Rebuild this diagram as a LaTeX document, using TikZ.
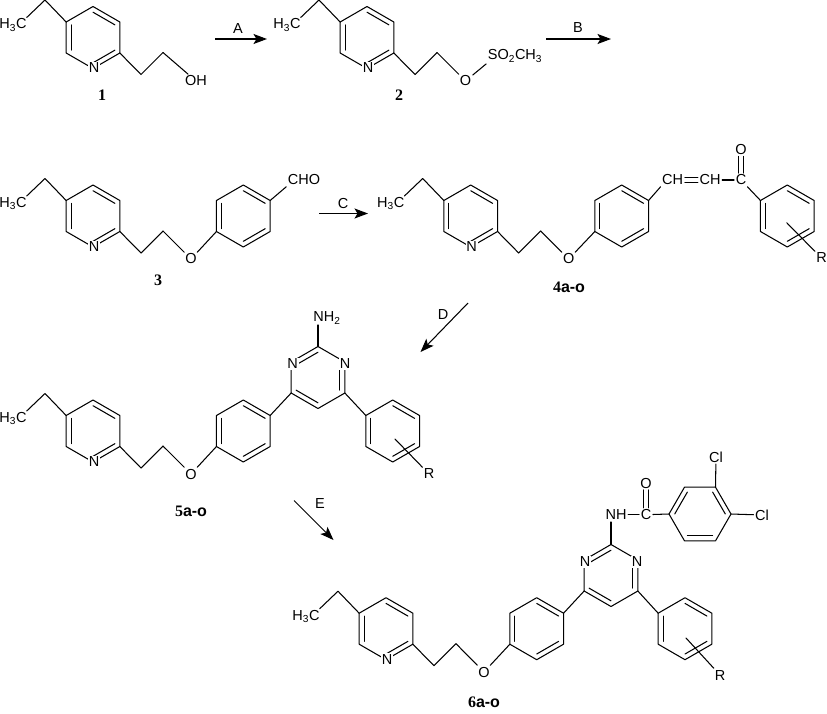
\documentclass[tikz,border=0pt]{standalone}
\usepackage{fontspec}
\setmainfont{Liberation Sans}
\newfontfamily\labelfont{Liberation Serif}
\usetikzlibrary{positioning,arrows.meta}

\tikzset{
    bond/.style={line width=1.05pt, line cap=round, line join=round},
    atom/.style={inner sep=1.5pt, font=\fontsize{14.5}{16}\selectfont},
    hetero/.style={atom, fill=white, inner sep=0.8pt},
    compound/.style={inner sep=0pt, font=\fontsize{16}{18}\selectfont\bfseries},
    reaction/.style={line width=1.05pt, -{Stealth[length=13.5pt,width=10pt,inset=3pt]}},
    ring/.pic={
        \foreach \i/\a in {1/-90,2/-30,3/30,4/90,5/150,6/-150}
            \coordinate (-\i) at (\a:31);
        \draw[bond] (-1)--(-2)--(-3)--(-4)--(-5)--(-6)--cycle;
        \foreach \a/\b in {-90/-30,30/90,150/-150}
            \draw[bond] (\a:25.3)--(\b:25.3);
    },
    % pyridine with ethyl, chain ends at c2
    pyridine/.pic={
        \pic (-r) {ring};
        \coordinate (-ch) at (-48,-37.5);
        \coordinate (-me) at (-66.3,-20);
        \node[atom] (-h3c) at (-80,-12.5) {H\textsubscript{3}C};
        \draw[bond] (-r-6)--(-ch)--(-me);
        \coordinate (-c1) at (48,37);
        \coordinate (-c2) at (70,15);
        \draw[bond] (-r-3)--(-c1)--(-c2);
        \node[hetero] (-n) at (1,30.5) {N};
    },
}

\begin{document}
\begin{tikzpicture}[x=1pt,y=-1pt]
    \useasboundingbox (0,0) rectangle (827,713);

    % 1
    \pic (aa) at (93,37.5) {pyridine};
    \node[atom] (oh) at (196,81) {OH};
    \draw[bond] (aa-c2)--(oh);
    \node[compound] (one) at (102,95) {\labelfont 1};

    % 2
    \pic (bb) at (367,37.5) {pyridine};
    \node[atom] (ob) at (465.5,81) {O};
    \node[atom,anchor=west] (ms) at (486.2,56) {SO\textsubscript{2}CH\textsubscript{3}};
    \draw[bond] (bb-c2)--(ob);
    \draw[bond] (ob)--(ms.south west);
    \node[compound] (two) at (399,95) {\labelfont 2};

    % 3
    \pic (cc) at (93,216) {pyridine};
    \pic (ca) at (243.3,216) {ring};
    \node[atom] (oc) at (191,259) {O};
    \node[atom] (cho) at (304,180) {CHO};
    \draw[bond] (cc-c2)--(oc)--(ca-5);
    \draw[bond] (ca-2)--(cho.south west);
    \node[compound] (three) at (158,280) {\labelfont 3};

    % 4
    \pic (dd) at (470.7,216) {pyridine};
    \pic (da) at (621.7,216) {ring};
    \pic (db) at (787.3,216) {ring};
    \node[atom] (od) at (568.7,259) {O};
    \node[atom] (cha) at (672.7,180) {CH};
    \node[atom] (chb) at (710,180) {CH};
    \node[atom] (cd) at (741,180) {C};
    \node[atom] (ocd) at (741,149.5) {O};
    \node[atom] (rd) at (821.5,258) {R};
    \coordinate (rda) at (786.7,222.7);
    \draw[bond] (dd-c2)--(od)--(da-5);
    \draw[bond] (da-2)--(cha.south west);
    \draw[bond] ([yshift=-2.5]cha.east)--([yshift=-2.5]chb.west);
    \draw[bond] ([yshift=2.5]cha.east)--([yshift=2.5]chb.west);
    \draw[bond] (chb)--(cd);
    \draw[bond] ([xshift=-2.4]cd.north)--([xshift=-2.4]ocd.south);
    \draw[bond] ([xshift=2.4]cd.north)--([xshift=2.4]ocd.south);
    \draw[bond] (cd)--(db-6);
    \draw[bond] (rda)--(rd);
    \node[compound] (four) at (569,287.5) {{\labelfont 4}a-o};

    % 5
    \pic (ee) at (93,431) {pyridine};
    \pic (ea) at (243.3,431) {ring};
    \pic[xscale=-1] (em) at (318,377.5) {ring};
    \pic (eb) at (392.7,431) {ring};
    \node[hetero] (ena) at (292.5,364) {N};
    \node[hetero] (enb) at (345,364) {N};
    \node[atom] (nh) at (327,318) {NH\textsubscript{2}};
    \node[atom] (oe) at (191,474) {O};
    \node[atom] (re) at (429,474) {R};
    \coordinate (rea) at (395,439);
    \coordinate (nhe) at (318,325);
    \draw[bond] (ee-c2)--(oe)--(ea-5);
    \draw[bond] (ea-2)--(em-3);
    \draw[bond] (em-5)--(eb-6);
    \draw[bond] (em-1)--(nhe);
    \draw[bond] (rea)--(re);
    \node[compound] (five) at (191,511) {{\labelfont 5}a-o};

    % 6
    \pic (ff) at (386,628.7) {pyridine};
    \pic (fa) at (536.7,628.7) {ring};
    \pic[xscale=-1] (fm) at (611,575.5) {ring};
    \pic (fb) at (685,628.7) {ring};
    \pic[rotate=-30] (fc) at (700,514) {ring};
    \node[hetero] (fna) at (585,562) {N};
    \node[hetero] (fnb) at (637,562) {N};
    \node[atom] (nf) at (616,514.7) {NH};
    \node[atom] (cf) at (646,514.7) {C};
    \node[atom] (ocf) at (646,483) {O};
    \node[atom] (clb) at (716,457) {Cl};
    \node[atom] (cla) at (762,515) {Cl};
    \node[atom] (of) at (484,672) {O};
    \node[atom] (rf) at (720,675) {R};
    \coordinate (rfa) at (686,638);
    \coordinate (nhf) at (611,522);
    \draw[bond] (ff-c2)--(of)--(fa-5);
    \draw[bond] (fa-2)--(fm-3);
    \draw[bond] (fm-5)--(fb-6);
    \draw[bond] (fm-1)--(nhf);
    \draw[bond] (nf)--(cf);
    \draw[bond] ([xshift=-2.4]cf.north)--([xshift=-2.4]ocf.south);
    \draw[bond] ([xshift=2.4]cf.north)--([xshift=2.4]ocf.south);
    \draw[bond] (cf)--(fc-5);
    \draw[bond] (fc-1)--(clb);
    \draw[bond] (fc-2)--(cla);
    \draw[bond] (rfa)--(rf);
    \node[compound] (six) at (484,702) {{\labelfont 6}a-o};

    % arrows
    \coordinate (aas) at (215,39); \coordinate (aae) at (267,39);
    \coordinate (bbs) at (546,39); \coordinate (bbe) at (611,39);
    \coordinate (ccs) at (319,213.5); \coordinate (cce) at (368,213.5);
    \coordinate (dds) at (468,303); \coordinate (dde) at (420.5,352);
    \coordinate (ees) at (294,500.5); \coordinate (eee) at (333.5,540);
    \draw[reaction] (aas)--(aae);
    \draw[reaction] (bbs)--(bbe);
    \draw[reaction] (ccs)--(cce);
    \draw[reaction] (dds)--(dde);
    \draw[reaction] (ees)--(eee);
    \node[atom] (la) at (238,29) {A};
    \node[atom] (lb) at (578,27.5) {B};
    \node[atom] (lc) at (343,204) {C};
    \node[atom] (ld) at (443,315) {D};
    \node[atom] (le) at (320,504) {E};
\end{tikzpicture}
\end{document}
